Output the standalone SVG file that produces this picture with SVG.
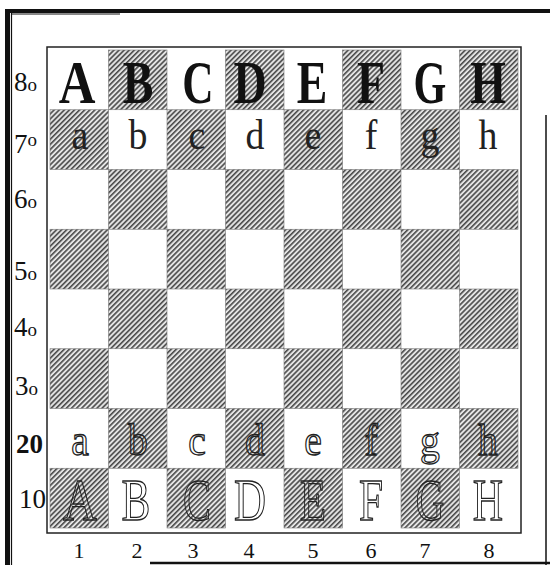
<svg xmlns="http://www.w3.org/2000/svg" width="550" height="565" viewBox="0 0 550 565">
<defs>
<pattern id="hatch" width="3.6" height="3.6" patternUnits="userSpaceOnUse" patternTransform="rotate(45)">
<rect width="3.6" height="3.6" fill="#e4e4e4"/>
<rect width="1.6" height="3.6" fill="#4a4a4a"/>
</pattern>
<style>
.dk{fill:url(#hatch);stroke:#777;stroke-width:0.6}
.big{font-family:"Liberation Serif",serif;font-weight:bold;font-size:62px;text-anchor:middle;fill:#111}
.low{font-family:"Liberation Serif",serif;font-size:42px;text-anchor:middle;fill:#222}
.olow{font-family:"Liberation Serif",serif;font-size:44px;text-anchor:middle;fill:none;stroke:#222;stroke-width:1.3}
.ocap{font-family:"Liberation Serif",serif;font-size:60px;text-anchor:middle;fill:none;stroke:#222;stroke-width:1.3}
.rl{font-family:"Liberation Serif",serif;font-size:27px;fill:#111}
.cn{font-family:"Liberation Serif",serif;font-size:22px;text-anchor:middle;fill:#111}
.frame{fill:none;stroke:#111}
</style>
</defs>
<rect width="550" height="565" fill="#fff"/>
<g id="frame">
<line class="frame" x1="5" y1="11" x2="550" y2="11" stroke-width="4"/>
<line class="frame" x1="7.5" y1="9" x2="7.5" y2="565" stroke-width="5"/>
<line class="frame" x1="11.5" y1="13" x2="11.5" y2="565" stroke-width="1.2"/>
<line class="frame" x1="11" y1="14" x2="120" y2="14" stroke-width="1"/>
<line class="frame" x1="546" y1="115" x2="546" y2="565" stroke-width="1.5"/>
<line class="frame" x1="150" y1="563" x2="550" y2="563" stroke-width="2.5"/>
</g>
<g id="board">
<rect x="47" y="47" width="474" height="486" fill="none" stroke="#222" stroke-width="1.5"/>
<g id="squares">
<rect class="dk" x="108.5" y="50" width="58.5" height="59.75"/>
<rect class="dk" x="225.5" y="50" width="58.5" height="59.75"/>
<rect class="dk" x="342.5" y="50" width="58.5" height="59.75"/>
<rect class="dk" x="459.5" y="50" width="58.5" height="59.75"/>
<rect class="dk" x="50" y="109.75" width="58.5" height="59.75"/>
<rect class="dk" x="167" y="109.75" width="58.5" height="59.75"/>
<rect class="dk" x="284" y="109.75" width="58.5" height="59.75"/>
<rect class="dk" x="401" y="109.75" width="58.5" height="59.75"/>
<rect class="dk" x="108.5" y="169.5" width="58.5" height="59.75"/>
<rect class="dk" x="225.5" y="169.5" width="58.5" height="59.75"/>
<rect class="dk" x="342.5" y="169.5" width="58.5" height="59.75"/>
<rect class="dk" x="459.5" y="169.5" width="58.5" height="59.75"/>
<rect class="dk" x="50" y="229.25" width="58.5" height="59.75"/>
<rect class="dk" x="167" y="229.25" width="58.5" height="59.75"/>
<rect class="dk" x="284" y="229.25" width="58.5" height="59.75"/>
<rect class="dk" x="401" y="229.25" width="58.5" height="59.75"/>
<rect class="dk" x="108.5" y="289" width="58.5" height="59.75"/>
<rect class="dk" x="225.5" y="289" width="58.5" height="59.75"/>
<rect class="dk" x="342.5" y="289" width="58.5" height="59.75"/>
<rect class="dk" x="459.5" y="289" width="58.5" height="59.75"/>
<rect class="dk" x="50" y="348.75" width="58.5" height="59.75"/>
<rect class="dk" x="167" y="348.75" width="58.5" height="59.75"/>
<rect class="dk" x="284" y="348.75" width="58.5" height="59.75"/>
<rect class="dk" x="401" y="348.75" width="58.5" height="59.75"/>
<rect class="dk" x="108.5" y="408.5" width="58.5" height="59.75"/>
<rect class="dk" x="225.5" y="408.5" width="58.5" height="59.75"/>
<rect class="dk" x="342.5" y="408.5" width="58.5" height="59.75"/>
<rect class="dk" x="459.5" y="408.5" width="58.5" height="59.75"/>
<rect class="dk" x="50" y="468.25" width="58.5" height="59.75"/>
<rect class="dk" x="167" y="468.25" width="58.5" height="59.75"/>
<rect class="dk" x="284" y="468.25" width="58.5" height="59.75"/>
<rect class="dk" x="401" y="468.25" width="58.5" height="59.75"/>
</g>
</g>
<g id="row8">
<text class="big" transform="translate(77,103) scale(0.82,1)">A</text>
<text class="big" transform="translate(138,103) scale(0.74,1)">B</text>
<text class="big" transform="translate(198,103) scale(0.7,1)">C</text>
<text class="big" transform="translate(250,103) scale(0.74,1)">D</text>
<text class="big" transform="translate(312,103) scale(0.74,1)">E</text>
<text class="big" transform="translate(371,103) scale(0.74,1)">F</text>
<text class="big" transform="translate(430,103) scale(0.68,1)">G</text>
<text class="big" transform="translate(488,103) scale(0.74,1)">H</text>
</g>
<g id="row7">
<text class="low" transform="translate(80,149) scale(0.9,1)">a</text>
<text class="low" transform="translate(138,149) scale(0.9,1)">b</text>
<text class="low" transform="translate(197,149) scale(0.9,1)">c</text>
<text class="low" transform="translate(255,149) scale(0.9,1)">d</text>
<text class="low" transform="translate(313,149) scale(0.9,1)">e</text>
<text class="low" transform="translate(371,149) scale(0.9,1)">f</text>
<text class="low" transform="translate(430,149) scale(0.9,1)">g</text>
<text class="low" transform="translate(488,149) scale(0.9,1)">h</text>
</g>
<g id="row2">
<text class="olow" transform="translate(80,455) scale(0.9,1)">a</text>
<text class="olow" transform="translate(138,455) scale(0.9,1)">b</text>
<text class="olow" transform="translate(197,455) scale(0.9,1)">c</text>
<text class="olow" transform="translate(255,455) scale(0.9,1)">d</text>
<text class="olow" transform="translate(313,455) scale(0.9,1)">e</text>
<text class="olow" transform="translate(371,455) scale(0.9,1)">f</text>
<text class="olow" transform="translate(430,455) scale(0.9,1)">g</text>
<text class="olow" transform="translate(488,455) scale(0.9,1)">h</text>
</g>
<g id="row1">
<text class="ocap" transform="translate(80,520) scale(0.78,1)">A</text>
<text class="ocap" transform="translate(136,520) scale(0.72,1)">B</text>
<text class="ocap" transform="translate(197,520) scale(0.7,1)">C</text>
<text class="ocap" transform="translate(250,520) scale(0.74,1)">D</text>
<text class="ocap" transform="translate(313,520) scale(0.72,1)">E</text>
<text class="ocap" transform="translate(371,520) scale(0.72,1)">F</text>
<text class="ocap" transform="translate(430,520) scale(0.66,1)">G</text>
<text class="ocap" transform="translate(488,520) scale(0.7,1)">H</text>
</g>
<g id="rank-labels">
<text class="rl" x="14" y="91">8<tspan font-size="19">o</tspan></text>
<text class="rl" x="14" y="153">7<tspan font-size="19" dy="-7">o</tspan></text>
<text class="rl" x="14" y="208">6<tspan font-size="19">o</tspan></text>
<text class="rl" x="14" y="280">5<tspan font-size="19">o</tspan></text>
<text class="rl" x="14" y="336">4<tspan font-size="19">o</tspan></text>
<text class="rl" x="15" y="395">3<tspan font-size="19">o</tspan></text>
<text class="rl" x="16" y="453" font-size="20" font-weight="bold">20</text>
<text class="rl" x="19" y="508">10</text>
</g>
<g id="file-labels">
<text class="cn" x="79" y="558">1</text>
<text class="cn" x="137" y="558">2</text>
<text class="cn" x="193" y="558">3</text>
<text class="cn" x="249" y="558">4</text>
<text class="cn" x="313" y="558">5</text>
<text class="cn" x="371" y="558">6</text>
<text class="cn" x="425" y="558">7</text>
<text class="cn" x="489" y="558">8</text>
</g>
</svg>
